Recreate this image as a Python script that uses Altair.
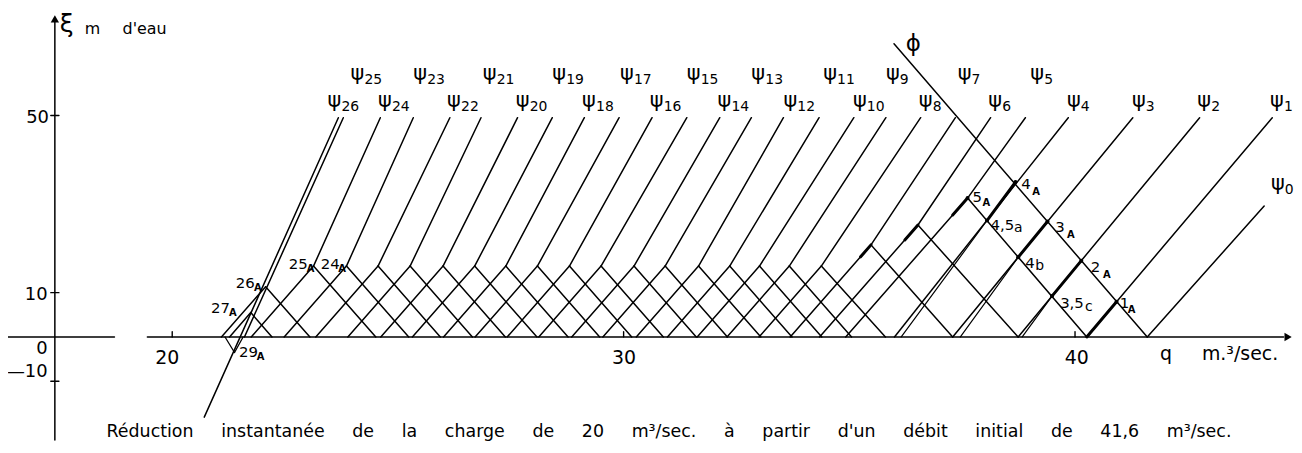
import altair as alt
import pandas as pd

NB = "\u00a0"

# ---------------- values (q in m3/s, xi in m) ----------------
# psi characteristic lines: lower end and upper end
psi_n = list(range(27))
psi_q_low = [41.60, 40.26, 38.74, 37.29, 36.00, 37.62, 36.52, 35.48, 34.38, 33.67,
             33.01, 32.35, 31.66, 30.92, 30.23, 29.50, 28.80, 28.09, 27.39, 26.70,
             26.00, 25.27, 24.56, 23.86, 23.13, 21.60, 20.71]
psi_xi_low = [0.0, 0.0, 0.0, 0.0, 0.0, 31.35, 25.28, 20.79, 16.0, 16.0,
              16.0, 16.0, 16.0, 16.0, 16.0, 16.0, 16.0, 16.0, 16.0, 16.0,
              16.0, 16.0, 16.0, 16.0, 16.0, 0.0, -18.1]
psi_q_high = [44.19, 44.37, 42.76, 41.28, 39.85, 38.90, 38.13, 37.35, 36.58, 35.81,
              35.10, 34.33, 33.54, 32.83, 32.13, 31.40, 30.63, 29.90, 29.13, 28.42,
              27.65, 26.84, 26.15, 25.34, 24.61, 23.79, 23.68]
psi_xi_high = [29.55, 49.5, 49.5, 49.5, 49.5, 49.5, 49.5, 49.5, 49.5, 49.5,
               49.5, 49.5, 49.5, 49.5, 49.5, 49.5, 49.5, 49.5, 49.5, 49.5,
               49.5, 49.5, 49.5, 49.5, 49.5, 49.5, 49.5]

# reflection peaks (psi5 ... psi26) with their two legs down to the q axis
peak_q = [37.62, 36.52, 35.48, 34.38, 33.67, 33.01, 32.35, 31.66, 30.92, 30.23, 29.50,
          28.80, 28.09, 27.39, 26.70, 26.00, 25.27, 24.56, 23.86, 23.13, 22.07, 21.74]
peak_xi = [31.35, 25.28, 20.79, 16.0, 16.0, 16.0, 16.0, 16.0, 16.0, 16.0, 16.0,
           16.0, 16.0, 16.0, 16.0, 16.0, 16.0, 16.0, 16.0, 16.0, 11.35, 5.5]
leg_left_q = [34.92, 34.34, 33.69, 33.00, 32.29, 31.63, 30.97, 30.28, 29.54, 28.85, 28.12,
              27.42, 26.71, 26.01, 25.32, 24.62, 23.89, 23.18, 22.48, 21.75, 21.09, 21.27]
leg_right_q = [40.26, 38.74, 37.29, 35.80, 35.05, 34.39, 33.73, 33.04, 32.30, 31.61, 30.88,
               30.18, 29.47, 28.77, 28.08, 27.38, 26.65, 25.94, 25.24, 24.51, 23.05, 22.21]

# phi line
phi_q = [35.99, 41.60]
phi_xi = [66.18, 0.0]

# small V under the axis (29_A)
vee_q = [21.17, 21.38, 21.57]
vee_xi = [0.0, -3.5, 0.0]

# doubled strokes below the intermediate points (3,5c / 4b / 4,5a)
dbl_q1 = [38.83, 37.46, 36.15]
dbl_xi1 = [0.0, 0.0, 0.0]
dbl_q2 = [39.49, 38.74, 38.05]
dbl_xi2 = [9.23, 17.99, 26.29]

# thick (A path) segments
thick_q1 = [40.26, 39.49, 38.74, 38.05, 37.29, 36.23, 35.25]
thick_xi1 = [0.0, 9.23, 17.99, 26.29, 27.53, 21.91, 18.09]
thick_q2 = [40.92, 40.14, 39.39, 38.68, 37.62, 36.52, 35.48]
thick_xi2 = [7.95, 17.23, 26.06, 34.98, 31.35, 25.28, 20.79]

# marked points
dot_q = [40.92, 40.14, 39.39, 38.68, 37.62, 38.05, 38.74, 39.49]
dot_xi = [7.95, 17.23, 26.06, 34.98, 31.35, 26.29, 17.99, 9.23]

# axes
y_axis_q = 17.40
y_ticks = [50, 10, -10]
y_tick_labels = ["50", "10", "0", "\u201410"]
y_tick_label_xi = [48.4, 8.4, -3.9, -9.1]
x_ticks = [20, 30, 40]
x_tick_labels = ["20", "30", "40"]

# psi labels
psi_lab_n = [26, 24, 22, 20, 18, 16, 14, 12, 10, 8, 6, 4, 3, 2, 1,
             25, 23, 21, 19, 17, 15, 13, 11, 9, 7, 5, 0]
psi_lab_q = [23.44, 24.56, 26.09, 27.61, 29.08, 30.58, 32.08, 33.54, 35.08, 36.54, 38.08,
             39.82, 41.26, 42.71, 44.32,
             23.95, 25.34, 26.88, 28.42, 29.92, 31.40, 32.83, 34.42, 35.81, 37.40, 39.01,
             44.34]
psi_lab_xi = [52.0, 52.0, 52.0, 52.0, 52.0, 52.0, 52.0, 52.0, 52.0, 52.0, 52.0,
              52.0, 52.0, 52.0, 52.0,
              58.1, 58.1, 58.1, 58.1, 58.1, 58.1, 58.1, 58.1, 58.1, 58.1, 58.1,
              33.15]

# point labels
pt_main = ["1", "2", "3", "4", "5", "4,5", "4", "3,5", "24", "25", "26", "27", "29"]
pt_q = [40.99, 40.35, 39.56, 38.81, 37.73, 38.13, 38.90, 39.67, 23.29, 22.58, 21.41, 20.86, 21.48]
pt_xi = [6.63, 14.72, 23.71, 33.37, 30.45, 24.16, 15.62, 6.63, 15.39, 15.39, 11.12, 5.51, -4.61]
pt_sub = ["A", "A", "A", "A", "A", "a", "b", "c", "A", "A", "A", "A", "A"]
pt_sub_q = [41.17, 40.62, 39.82, 39.05, 37.95, 38.65, 39.12, 40.22, 23.68, 22.98, 21.81, 21.26, 21.87]
pt_sub_xi = [5.51, 13.37, 22.36, 32.02, 29.55, 23.71, 15.17, 5.96, 14.72, 14.72, 10.45, 4.83, -5.28]

caption_words = ["Réduction", "instantanée", "de", "la", "charge", "de", "20", "m³/sec.", "à",
                 "partir", "d'un", "débit", "initial", "de", "41,6", "m³/sec."]

# ---------------- build tables ----------------
XD = [16.362, 44.851]
YD = [-23.26, 74.04]
FONT = "DejaVu Sans"

rows = []
def seg(q1, x1, q2, x2, w):
    rows.append(dict(q1=q1, xi1=x1, q2=q2, xi2=x2, w=w))

LW = 1.5
# axes
seg(y_axis_q, YD[0], y_axis_q, 72.0, LW)
seg(16.362, 0, 18.72, 0, LW)
seg(19.45, 0, 44.62, 0, LW)
for t in y_ticks:
    seg(17.31, t, 17.49, t, 1.4)
for t in x_ticks:
    seg(t, 0, t, 1.2, 1.4)
# psi lines
for i in psi_n:
    seg(psi_q_low[i], psi_xi_low[i], psi_q_high[i], psi_xi_high[i], LW)
# legs
for i in range(len(peak_q)):
    seg(leg_left_q[i], 0, peak_q[i], peak_xi[i], LW)
    seg(peak_q[i], peak_xi[i], leg_right_q[i], 0, LW)
# phi
seg(phi_q[0], phi_xi[0], phi_q[1], phi_xi[1], LW)
# vee
seg(vee_q[0], vee_xi[0], vee_q[1], vee_xi[1], 1.3)
seg(vee_q[1], vee_xi[1], vee_q[2], vee_xi[2], 1.3)
# doubled strokes
for i in range(len(dbl_q1)):
    seg(dbl_q1[i], dbl_xi1[i], dbl_q2[i], dbl_xi2[i], 1.2)
# thick
for i in range(len(thick_q1)):
    seg(thick_q1[i], thick_xi1[i], thick_q2[i], thick_xi2[i], 3.0)

segs = pd.DataFrame(rows)

xs = alt.Scale(domain=XD, nice=False, zero=False)
ys = alt.Scale(domain=YD, nice=False, zero=False)

def X(f):
    return alt.X(f, type="quantitative", scale=xs, axis=None)

def Y(f):
    return alt.Y(f, type="quantitative", scale=ys, axis=None)

lines = alt.Chart(segs).mark_rule(color="black", strokeCap="round").encode(
    x=X("q1"), y=Y("xi1"), x2="q2", y2="xi2",
    strokeWidth=alt.StrokeWidth("w:Q", scale=None, legend=None),
)

dots = alt.Chart(pd.DataFrame(dict(q=dot_q, xi=dot_xi))).mark_point(
    filled=True, color="black", size=16, opacity=1
).encode(x=X("q"), y=Y("xi"))

arrows = alt.Chart(pd.DataFrame(dict(q=[y_axis_q, 44.72], xi=[71.8, 0.0],
                                     shp=["triangle-up", "triangle-right"]))).mark_point(
    filled=True, color="black", size=70, opacity=1
).encode(x=X("q"), y=Y("xi"),
         shape=alt.Shape("shp:N", scale=None, legend=None))

# left-aligned texts
tl = []
for n, q, xi in zip(psi_lab_n, psi_lab_q, psi_lab_xi):
    tl.append(dict(q=q, xi=xi, t="ψ", fs=21, dx=0, dy=0))
    tl.append(dict(q=q, xi=xi, t=str(n), fs=14, dx=14, dy=4))
for m, q, xi in zip(pt_main, pt_q, pt_xi):
    tl.append(dict(q=q, xi=xi, t=m, fs=15, dx=0, dy=0))
for s, q, xi in zip(pt_sub, pt_sub_q, pt_sub_xi):
    if s != "A":
        tl.append(dict(q=q, xi=xi, t=s, fs=14, dx=0, dy=0))
tl.append(dict(q=36.25, xi=64.6, t="ϕ", fs=23, dx=0, dy=0))
tl.append(dict(q=17.51, xi=68.9, t="ξ", fs=25, dx=0, dy=0))
tl.append(dict(q=18.06, xi=68.4, t="m", fs=16, dx=0, dy=0))
tl.append(dict(q=18.90, xi=68.4, t="d'eau", fs=16, dx=0, dy=0))
tl.append(dict(q=41.88, xi=-5.1, t="q" + NB * 5 + "m.³/sec.", fs=19, dx=0, dy=0))
tl.append(dict(q=18.545, xi=-22.6, t=(NB * 5).join(caption_words), fs=17.5, dx=0, dy=0))
tl_df = pd.DataFrame(tl)

def text_layer(df, align="left", weight="normal"):
    layers = []
    for (dx, dy), sub in df.groupby(["dx", "dy"]):
        layers.append(
            alt.Chart(sub).mark_text(align=align, baseline="alphabetic", font=FONT,
                                     fontWeight=weight, color="black", dx=int(dx), dy=int(dy))
            .encode(x=X("q"), y=Y("xi"), text="t:N", size=alt.Size("fs:Q", scale=None, legend=None))
        )
    return layers

sub_A = pd.DataFrame([dict(q=q, xi=xi, t=s, fs=10, dx=0, dy=0)
                      for s, q, xi in zip(pt_sub, pt_sub_q, pt_sub_xi) if s == "A"])

right_df = pd.DataFrame(dict(q=[17.27, 17.24, 17.24, 17.24], xi=y_tick_label_xi,
                             t=y_tick_labels, fs=[18, 18, 18, 18], dx=[0, 0, 0, 0], dy=[0, 0, 0, 0]))
center_df = pd.DataFrame(dict(q=[19.89, 30.01, 40.04], xi=[-6.2, -6.2, -6.2],
                              t=x_tick_labels, fs=[19, 19, 19], dx=[0, 0, 0], dy=[0, 0, 0]))

layers = [lines, dots, arrows]
layers += text_layer(tl_df)
layers += text_layer(sub_A, weight="bold")
layers += text_layer(right_df, align="right")
layers += text_layer(center_df, align="center")

chart = alt.layer(*layers).properties(
    width=1292, height=433, padding=0,
    autosize=alt.AutoSizeParams(type="none"),
    background="white",
).configure_view(stroke=None)

chart.save("out.html", embed_options={"renderer": "svg", "actions": False})
